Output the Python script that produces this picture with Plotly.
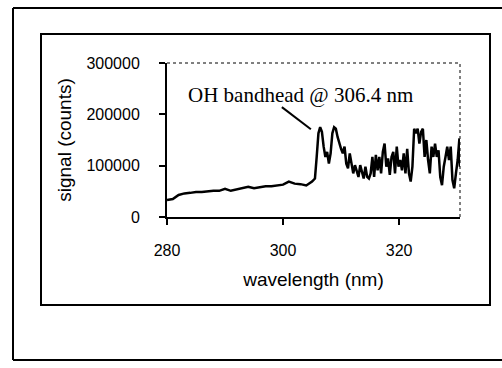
import plotly.graph_objects as go

# wavelength (nm) and signal (counts)
wavelength = [280, 281, 282, 283, 284, 285, 286, 287, 288, 289, 290, 291, 292, 293, 294,
              295, 296, 297, 298, 299, 300, 301, 302, 303, 304, 305, 305.5, 305.8, 306.1,
              306.4, 306.7, 307.0, 307.3, 307.6, 307.9, 308.2, 308.5, 308.8, 309.1, 309.4,
              309.7, 310.0, 310.3, 310.6, 310.9, 311.2, 311.5, 311.8, 312.1, 312.4, 312.7,
              313.0, 313.3, 313.6, 313.9, 314.2, 314.5, 314.8, 315.1, 315.4, 315.7, 316.0,
              316.3, 316.6, 316.9, 317.2, 317.5, 317.8, 318.1, 318.4, 318.7, 319.0, 319.3,
              319.6, 319.9, 320.2, 320.5, 320.8, 321.1, 321.4, 321.7, 322.0, 322.3, 322.6,
              322.9, 323.2, 323.5, 323.8, 324.1, 324.4, 324.7, 325.0, 325.3, 325.6, 325.9,
              326.2, 326.5, 326.8, 327.1, 327.4, 327.7, 328.0, 328.3, 328.6, 328.9, 329.2,
              329.5, 329.8, 330.1, 330.4, 330.5]
signal = [33000, 35000, 43000, 46000, 47000, 48500, 48500, 50000, 51000, 51000, 55000, 51000,
          54000, 56000, 59000, 56000, 58000, 60000, 60000, 61500, 63000, 69000, 65000, 64000,
          61500, 69000, 75000, 117000, 163000, 175000, 166000, 137000, 117000, 127000, 104000,
          124000, 163000, 175000, 172000, 156000, 143000, 133000, 124000, 137000, 104000,
          95000, 124000, 104000, 85000, 101000, 91000, 78000, 101000, 85000, 75000, 98000,
          78000, 75000, 85000, 117000, 78000, 121000, 91000, 117000, 85000, 127000, 143000,
          98000, 114000, 82000, 117000, 127000, 85000, 137000, 98000, 111000, 91000, 124000,
          85000, 133000, 85000, 69000, 98000, 172000, 163000, 172000, 143000, 166000, 172000,
          117000, 150000, 111000, 85000, 137000, 117000, 143000, 117000, 130000, 78000, 62000,
          98000, 117000, 137000, 111000, 137000, 72000, 56000, 85000, 111000, 153000, 98000]

x_ticks = [280, 300, 320]
y_ticks = [0, 100000, 200000, 300000]
annotation_text = "OH bandhead @ 306.4 nm"

fig = go.Figure()
fig.add_trace(go.Scatter(x=wavelength, y=signal, mode="lines",
                         line=dict(color="black", width=2.5), showlegend=False))

# plot area in pixels: x 167..460, y 63..217
L, R, T, B = 167, 460, 63, 217
W, H = 502, 368
pw, ph = R - L, B - T

def px(x):
    return (x - L) / pw

def py(y):
    return (B - y) / ph

def pline(x0, y0, x1, y1, width=2, dash="solid"):
    return dict(type="line", xref="paper", yref="paper", x0=px(x0), x1=px(x1),
                y0=py(y0), y1=py(y1), line=dict(color="black", width=width, dash=dash))

shapes = [
    # outer frame: left, top, bottom (right side runs off the page)
    pline(13, 8, 13, 360),
    pline(13, 8, 502, 8),
    pline(13, 360, 502, 360),
    # inner frame
    dict(type="rect", xref="paper", yref="paper", x0=px(41), x1=px(490),
         y0=py(305), y1=py(34), line=dict(color="black", width=2)),
    # dotted top and right borders of plot area
    dict(type="line", xref="paper", yref="paper", x0=0, x1=1, y0=1, y1=1,
         line=dict(color="black", width=1, dash="dot")),
    dict(type="line", xref="paper", yref="paper", x0=1, x1=1, y0=0, y1=1,
         line=dict(color="black", width=1, dash="dot")),
    # annotation pointer line
    dict(type="line", xref="x", yref="y", x0=299.8, y0=214000, x1=304.8, y1=171000,
         line=dict(color="black", width=2)),
]

fig.update_layout(
    width=W, height=H,
    margin=dict(l=L, r=W - R, t=T, b=H - B),
    paper_bgcolor="white", plot_bgcolor="white",
    shapes=shapes,
    font=dict(family="Liberation Sans, Arial", color="black"),
    xaxis=dict(range=[280, 330.5], tickvals=x_ticks, ticks="outside", ticklen=6,
               tickwidth=1.5, tickcolor="black", showgrid=False, zeroline=False,
               showline=True, linecolor="black", linewidth=2,
               tickfont=dict(size=16), ticklabelstandoff=12,
               title=dict(text="wavelength (nm)", font=dict(size=19), standoff=14)),
    yaxis=dict(range=[0, 300000], tickvals=y_ticks, tickformat="d", ticks="outside",
               ticklen=6, tickwidth=1.5, tickcolor="black", showgrid=False, zeroline=False,
               showline=True, linecolor="black", linewidth=2,
               tickfont=dict(size=16), ticklabelstandoff=16,
               title=dict(text="signal (counts)", font=dict(size=19), standoff=10)),
    annotations=[dict(text=annotation_text, x=302.95, y=237000, xref="x", yref="y",
                      showarrow=False, xanchor="center", yanchor="middle",
                      font=dict(family="Liberation Serif, Times New Roman", size=21))],
)

fig.write_html("out.html")
